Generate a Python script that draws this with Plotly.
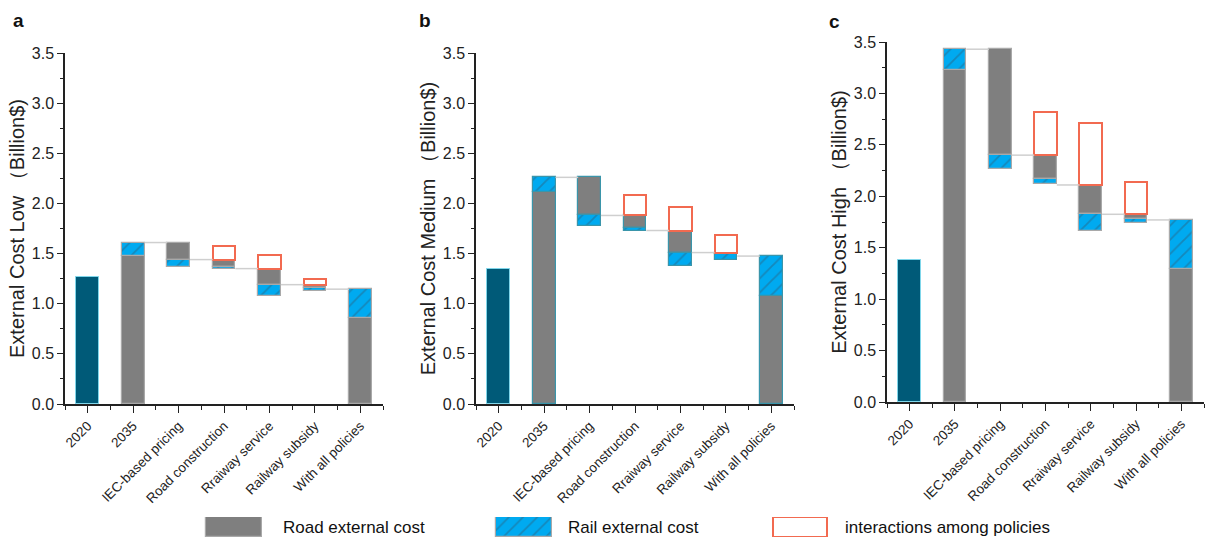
import plotly.graph_objects as go

# ---------------- data ----------------
categories = ["2020", "2035", "IEC-based pricing", "Road construction",
              "Rraiway service", "Railway subsidy", "With all policies"]
panel_letters = ["a", "b", "c"]
y_titles = ["External Cost Low （Billion$)", "External Cost Medium （Billion$)",
            "External Cost High （Billion$)"]

cost_2020 = [1.27, 1.35, 1.38]
road_2035 = [1.48, 2.11, 3.23]
rail_2035 = [0.13, 0.15, 0.20]
road_all = [0.855, 1.08, 1.29]
rail_all = [0.29, 0.395, 0.48]

# levels after IEC-based pricing, Road construction, Rraiway service
mid_levels_low = [1.44, 1.35, 1.19]
mid_levels_med = [1.88, 1.73, 1.51]
mid_levels_high = [2.40, 2.11, 1.825]

# reductions for the four policies (IEC, road, railway service, subsidy)
road_reduction_low = [0.17, 0.07, 0.16, 0.035]
road_reduction_med = [0.38, 0.12, 0.22, 0.015]
road_reduction_high = [1.03, 0.235, 0.285, 0.05]
rail_reduction_low = [0.07, 0.02, 0.11, 0.025]
rail_reduction_med = [0.11, 0.03, 0.134, 0.055]
rail_reduction_high = [0.135, 0.05, 0.16, 0.03]
interaction_low = [0.0, 0.135, 0.14, 0.055]
interaction_med = [0.0, 0.20, 0.23, 0.18]
interaction_high = [0.0, 0.42, 0.60, 0.315]

y_ticks = [0.0, 0.5, 1.0, 1.5, 2.0, 2.5, 3.0, 3.5]

mid_levels = [mid_levels_low, mid_levels_med, mid_levels_high]
road_red = [road_reduction_low, road_reduction_med, road_reduction_high]
rail_red = [rail_reduction_low, rail_reduction_med, rail_reduction_high]
inter = [interaction_low, interaction_med, interaction_high]

# ---------------- styling ----------------
W, H = 1207, 541
FONT = "Liberation Sans, Arial, sans-serif"
C2020 = "#005a78"
GREY = "#7f7f7f"
BLUE = "#00aaf0"
RED = "#f26a50"
grey_edge = ["#a9a9a9", "#3a95aa", "#a9a9a9"]
BW = 0.5

# pixel layout of each plot area: (x0, x1, ytop, ybottom)
boxes = [(65, 383, 53, 404), (476, 794, 53, 404), (887, 1204, 42, 402)]

pattern = dict(shape="/", size=10, solidity=0.18, fgcolor="#2a6585", bgcolor=BLUE,
               fillmode="overlay")

fig = go.Figure()

for i in range(3):
    ax = "" if i == 0 else str(i + 1)
    xa, ya = "x" + ax, "y" + ax
    levels = [road_2035[i] + rail_2035[i]] + mid_levels[i] + [road_all[i] + rail_all[i]]
    starts = levels[:-1]
    pol_x = [2, 3, 4, 5]

    # connectors
    cx, cy = [], []
    for k in range(len(levels)):
        cx += [k + 1 + BW / 2, k + 2 - BW / 2, None]
        cy += [levels[k], levels[k], None]
    fig.add_trace(go.Scatter(x=cx, y=cy, mode="lines", xaxis=xa, yaxis=ya,
                             line=dict(color="#cfcfcf", width=1.5),
                             showlegend=False, hoverinfo="skip"))

    # 2020
    fig.add_trace(go.Bar(x=[0], y=[cost_2020[i]], width=BW, xaxis=xa, yaxis=ya,
                         marker=dict(color=C2020, line=dict(color="#7fd6ea", width=1)),
                         showlegend=False))
    # road
    road_x = [1] + pol_x + [6]
    road_base = [0] + [s - r for s, r in zip(starts, road_red[i])] + [0]
    road_h = [road_2035[i]] + road_red[i] + [road_all[i]]
    fig.add_trace(go.Bar(x=road_x, y=road_h, base=road_base, width=BW, xaxis=xa, yaxis=ya,
                         marker=dict(color=GREY, line=dict(color=grey_edge[i], width=1.2)),
                         showlegend=False))
    # rail
    rail_base = [road_2035[i]] + [s - r - q for s, r, q in zip(starts, road_red[i], rail_red[i])] + [road_all[i]]
    rail_h = [rail_2035[i]] + rail_red[i] + [rail_all[i]]
    fig.add_trace(go.Bar(x=road_x, y=rail_h, base=rail_base, width=BW, xaxis=xa, yaxis=ya,
                         marker=dict(color=BLUE, pattern=pattern,
                                     line=dict(color=grey_edge[i], width=1.2)),
                         showlegend=False))
    # interactions
    ix = [x for x, v in zip(pol_x, inter[i]) if v > 0]
    ib = [s for s, v in zip(starts, inter[i]) if v > 0]
    ih = [v for v in inter[i] if v > 0]
    fig.add_trace(go.Bar(x=ix, y=ih, base=ib, width=BW, xaxis=xa, yaxis=ya,
                         marker=dict(color="rgba(255,255,255,1)", line=dict(color=RED, width=2)),
                         showlegend=False))

    x0, x1, yt, yb = boxes[i]
    fig.update_layout(**{
        "xaxis" + ax: dict(
            domain=[x0 / W, x1 / W], anchor=ya, range=[-0.5, 6.5],
            tickmode="array", tickvals=list(range(7)), ticktext=categories,
            tickangle=-45, tickfont=dict(family=FONT, size=13.5, color="#222"),
            showline=True, linecolor="#222", linewidth=1.5,
            ticks="outside", ticklen=7, tickwidth=1.3, tickcolor="#222",
            minor=dict(ticks="outside", tick0=0.5, dtick=1, ticklen=4,
                       tickwidth=1.2, tickcolor="#222"),
            showgrid=False, zeroline=False, fixedrange=True, automargin=False),
        "yaxis" + ax: dict(
            domain=[1 - yb / H, 1 - yt / H], anchor=xa, range=[0, 3.5],
            tickmode="array", tickvals=y_ticks, ticktext=[f"{v:.1f}" for v in y_ticks],
            tickfont=dict(family=FONT, size=16, color="#222"),
            showline=True, linecolor="#222", linewidth=1.5,
            ticks="outside", ticklen=6, tickwidth=1.3, tickcolor="#222",
            minor=dict(ticks="outside", tick0=0.25, dtick=0.5, ticklen=3,
                       tickwidth=1.2, tickcolor="#222"),
            title=dict(text=y_titles[i], font=dict(family=FONT, size=20, color="#222"),
                       standoff=2),
            showgrid=False, zeroline=False, fixedrange=True, automargin=False),
    })

# panel letters
letter_pos = [(18, 20), (425, 20), (834, 22)]
for (lx, ly), t in zip(letter_pos, panel_letters):
    fig.add_annotation(x=lx / W, y=1 - ly / H, xref="paper", yref="paper", text=f"<b>{t}</b>",
                       showarrow=False, font=dict(family=FONT, size=19, color="#111"),
                       xanchor="center", yanchor="middle")

# legend (drawn on its own hidden axis)
leg_names = ["Road external cost", "Rail external cost", "interactions among policies"]
leg_centers = [233.5, 523.5, 800]
leg_text_x = [281, 566, 843]
fig.add_trace(go.Bar(x=[leg_centers[0]], y=[1], width=56, xaxis="x4", yaxis="y4",
                     marker=dict(color=GREY, line=dict(color="#a9a9a9", width=1.2)),
                     showlegend=False, hoverinfo="skip"))
fig.add_trace(go.Bar(x=[leg_centers[1]], y=[1], width=56, xaxis="x4", yaxis="y4",
                     marker=dict(color=BLUE, pattern=pattern, line=dict(color="#a9a9a9", width=1.2)),
                     showlegend=False, hoverinfo="skip"))
fig.add_trace(go.Bar(x=[leg_centers[2]], y=[1], width=54, xaxis="x4", yaxis="y4",
                     marker=dict(color="white", line=dict(color=RED, width=2)),
                     showlegend=False, hoverinfo="skip"))
fig.update_layout(
    xaxis4=dict(domain=[0, 1], range=[0, W], anchor="y4", visible=False, fixedrange=True),
    yaxis4=dict(domain=[1 - 537 / H, 1 - 517 / H], range=[0, 1], anchor="x4",
                visible=False, fixedrange=True),
)
for tx, name in zip(leg_text_x, leg_names):
    fig.add_annotation(x=tx / W, y=1 - 527 / H, xref="paper", yref="paper", text=name,
                       showarrow=False, xanchor="left", yanchor="middle",
                       font=dict(family=FONT, size=17, color="#111"))

fig.update_layout(
    width=W, height=H, margin=dict(l=0, r=0, t=0, b=0),
    paper_bgcolor="white", plot_bgcolor="white",
    barmode="overlay", showlegend=False, bargap=0,
)

fig.write_html("out.html", config={"displayModeBar": False},
               post_script="document.body.style.margin='0px';document.body.style.overflow='hidden';")
